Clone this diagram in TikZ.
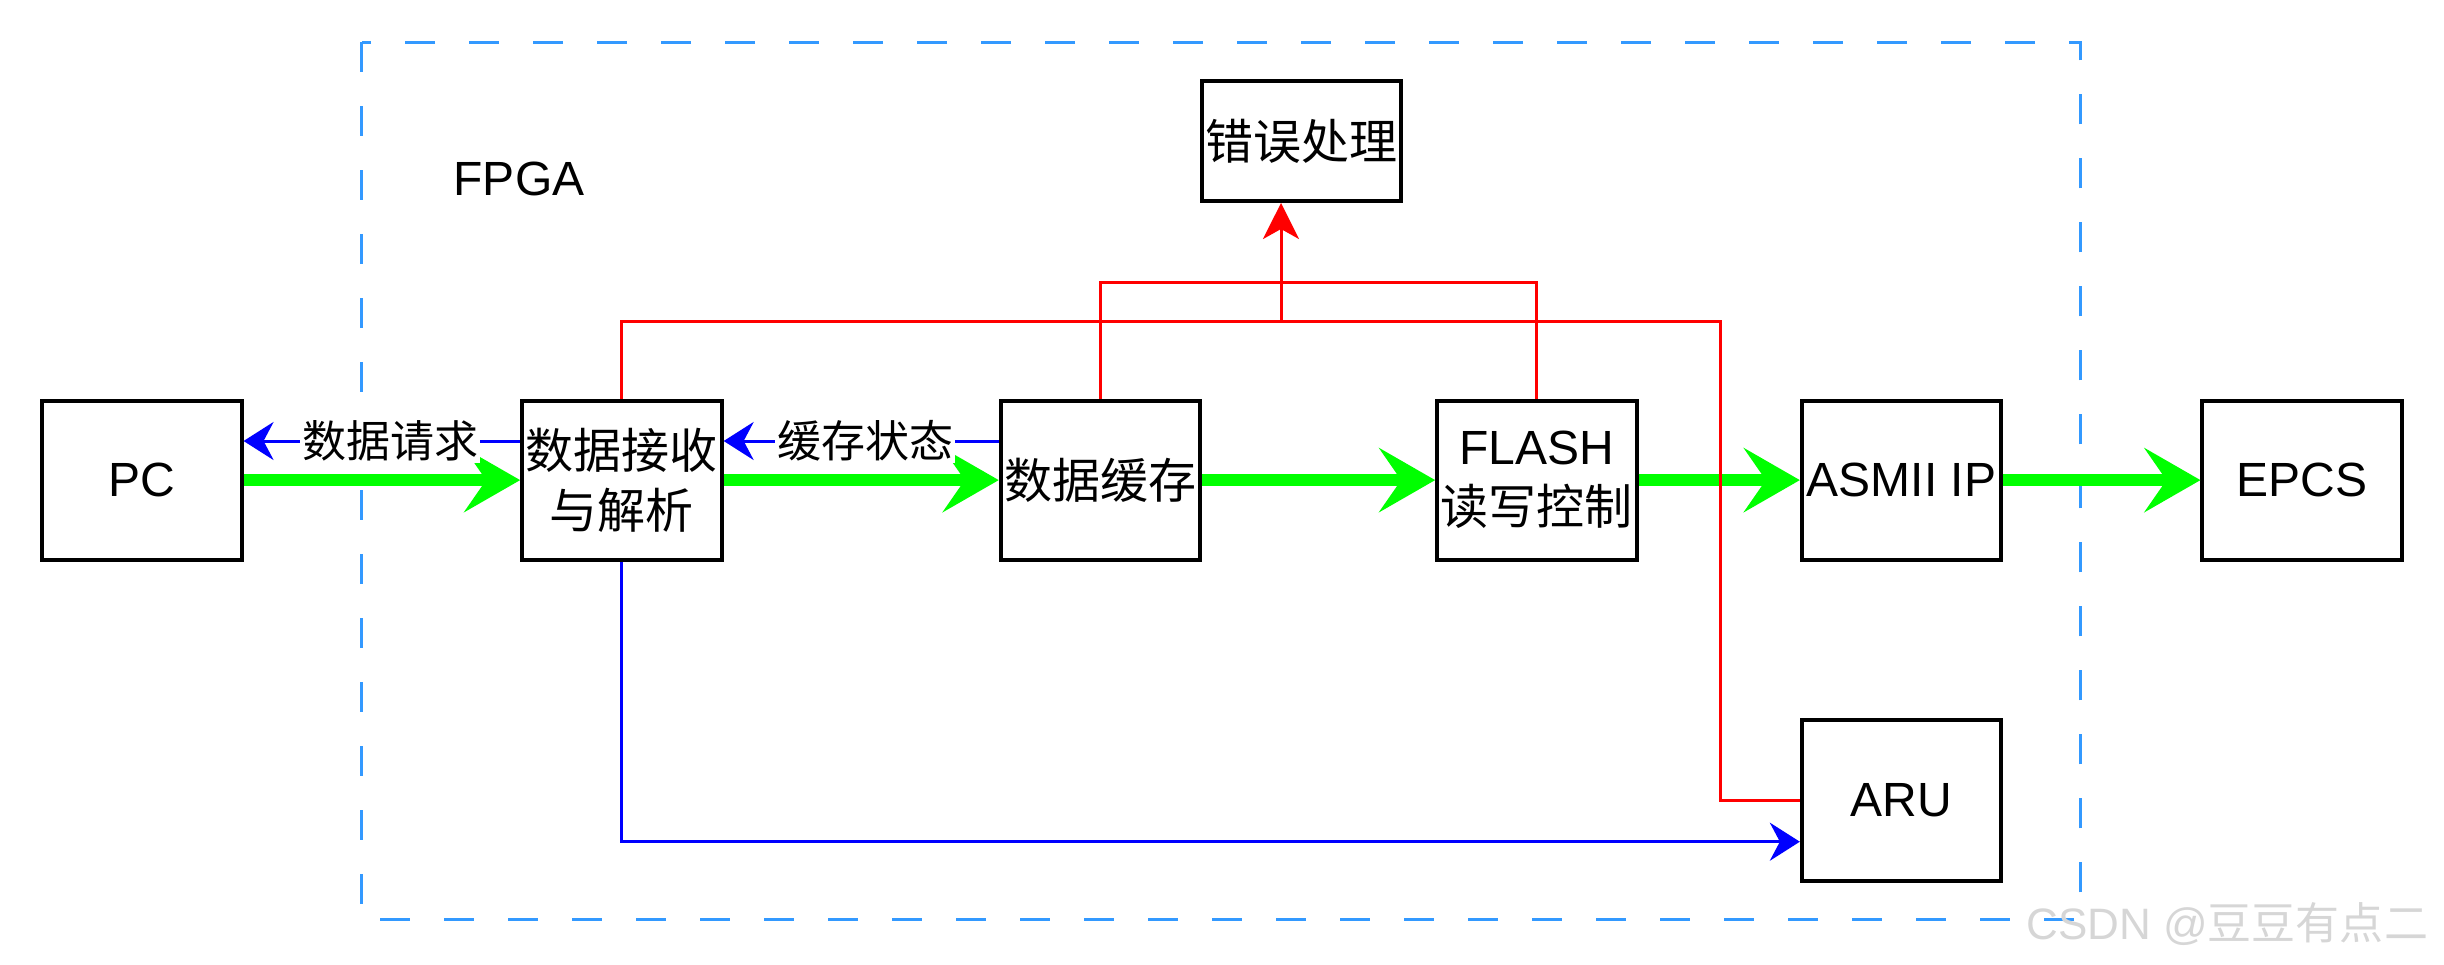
\documentclass[tikz,border=0pt]{standalone}
\usepackage{fontspec}
\setmainfont{Liberation Sans}
\newfontfamily\cjk{Noto Sans CJK SC}
\usetikzlibrary{arrows.meta}
\definecolor{fgreen}{RGB}{0,255,0}
\definecolor{fblue}{RGB}{0,0,255}
\definecolor{fred}{RGB}{255,0,0}
\definecolor{fpgab}{RGB}{51,153,255}
\begin{document}
\begin{tikzpicture}[x=0.5pt,y=-0.5pt,
  box/.style={draw,line width=2pt,minimum width=99.75pt,minimum height=79.5pt,inner sep=0pt,align=center,font=\fontsize{24pt}{30pt}\selectfont},
  garrow/.style={draw=fgreen,line width=6pt,-{Stealth[length=28pt,width=32pt,inset=11pt]}},
  bline/.style={draw=fblue,line width=1.5pt},
  barrow/.style={bline,-{Stealth[length=15pt,width=19pt,inset=5pt]}},
  rline/.style={draw=fred,line width=1.5pt},
  rarrow/.style={rline,-{Stealth[length=18pt,width=18pt,inset=5pt]}},
  lbl/.style={fill=white,inner sep=1pt,font=\fontsize{22pt}{26pt}\selectfont\cjk},
  fpgaborder/.style={draw=fpgab,line width=1.5pt,dash pattern=on 15pt off 17pt}
]
\useasboundingbox (0,0) rectangle (2444,964);
% FPGA border
\draw[fpgaborder] (361.6,42) rectangle (2080.8,919.6);
\node[font=\fontsize{24pt}{30pt}\selectfont] (fpga) at (519,179) {FPGA};
% boxes
\node[box] (pc) at (141.8,480.1) {PC};
\node[box] (rx) at (621.9,480.1) {{\cjk 数据接收}\\{\cjk 与解析}};
\node[box] (buf) at (1100.5,480.1) {\cjk 数据缓存};
\node[box] (flash) at (1536.9,480.1) {FLASH\\{\cjk 读写控制}};
\node[box] (asm) at (1901.6,480.1) {ASMII IP};
\node[box] (epcs) at (2302.2,480.1) {EPCS};
\node[box,minimum height=80.35pt] (aru) at (1901.6,800.4) {ARU};
\node[box,minimum height=60pt] (err) at (1301.5,141) {\cjk 错误处理};
% helper coordinates
\coordinate (yreq) at (0,441);
\coordinate (yred1) at (0,321);
\coordinate (yred2) at (0,282);
\coordinate (redx) at (1720.8,321);
\coordinate (errin) at (1281,321);
\coordinate (yblue) at (0,841.7);
% green data path
\draw[garrow] (pc.east) -- (rx.west);
\draw[garrow] (rx.east) -- (buf.west);
\draw[garrow] (buf.east) -- (flash.west);
\draw[garrow] (flash.east) -- (asm.west);
\draw[garrow] (asm.east) -- (epcs.west);
% blue feedback
\draw[barrow] (rx.west |- yreq) -- (pc.east |- yreq);
\node[lbl] (req) at (390,441) {数据请求};
\draw[barrow] (buf.west |- yreq) -- (rx.east |- yreq);
\node[lbl] (st) at (865,441) {缓存状态};
\draw[barrow] (rx.south) |- (aru.west |- yblue);
% red error lines
\draw[rline] (rx.north) -- (rx.north |- yred1) -- (redx) |- (aru.west);
\draw[rline] (buf.north) -- (buf.north |- yred2) -| (flash.north);
\draw[rarrow] (errin) -- (errin |- err.south);
% watermark
\node[anchor=west,text=black!16,font=\fontsize{22pt}{26pt}\selectfont,inner sep=0pt] (wm) at (2026,924) {CSDN @{\cjk 豆豆有点二}};
\end{tikzpicture}
\end{document}
